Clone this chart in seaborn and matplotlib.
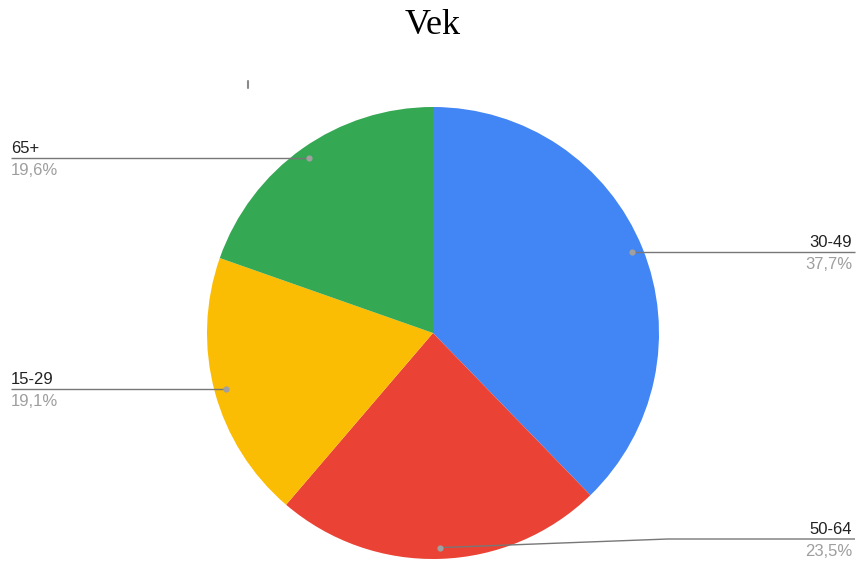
import numpy as np
import matplotlib
matplotlib.use("Agg")
import matplotlib.pyplot as plt
import seaborn as sns

# data
age_groups = ['30-49', '50-64', '15-29', '65+']
shares = [37.7, 23.5, 19.1, 19.6]
slice_colors = ['#4285F4', '#EA4335', '#FBBC04', '#34A853']
title = 'Vek'

W, H = 857, 561
cx, cy, R = 433, H - 333, 226

sns.set_theme(style="white")
plt.rcParams['font.family'] = ['Liberation Sans', 'DejaVu Sans']

fig = plt.figure(figsize=(W / 100, H / 100), dpi=100)
ax = fig.add_axes([0, 0, 1, 1])

wedges, _ = ax.pie(shares, colors=slice_colors, startangle=90, counterclock=False,
                   center=(cx, cy), radius=R,
                   wedgeprops=dict(edgecolor='none', linewidth=0))

# leader lines + labels
for w, name, val in zip(wedges, age_groups, shares):
    ang = np.deg2rad((w.theta1 + w.theta2) / 2)
    dx, dy = cx + 0.95 * R * np.cos(ang), cy + 0.95 * R * np.sin(ang)
    right = np.cos(ang) > 0
    x_line = 855 if right else 11
    x_txt = 852 if right else 11
    line_y = dy
    if dy < 30:
        # bottom label gets pushed up a bit, line bends
        line_y = H - 539
        xs, ys = [dx, 668, x_line], [dy, line_y, line_y]
    else:
        xs, ys = [dx, x_line], [dy, dy]
    ax.plot(xs, ys, color='#777777', lw=1.0, solid_capstyle='butt', zorder=3)
    ax.plot(dx, dy, 'o', ms=4.5, color='#a0a0a0', mec='none', zorder=4)
    ha = 'right' if right else 'left'
    ax.text(x_txt, line_y + 5, name, ha=ha, va='baseline', fontsize=12, color='#222222')
    ax.text(x_txt, line_y - 17, f"{val:.1f}".replace('.', ',') + '%', ha=ha,
            va='baseline', fontsize=12, color='#9e9e9e')

# small stray tick seen in the original
ax.plot([248, 248], [H - 81, H - 88], color='#8a8a8a', lw=1.5)

ax.text(433, H - 25, title, ha='center', va='center', fontsize=26,
        family='Liberation Serif', color='black')

ax.set_xlim(0, W)
ax.set_ylim(0, H)
ax.set_aspect('auto')
ax.axis('off')

fig.savefig('out.png', dpi=100, facecolor='white')
